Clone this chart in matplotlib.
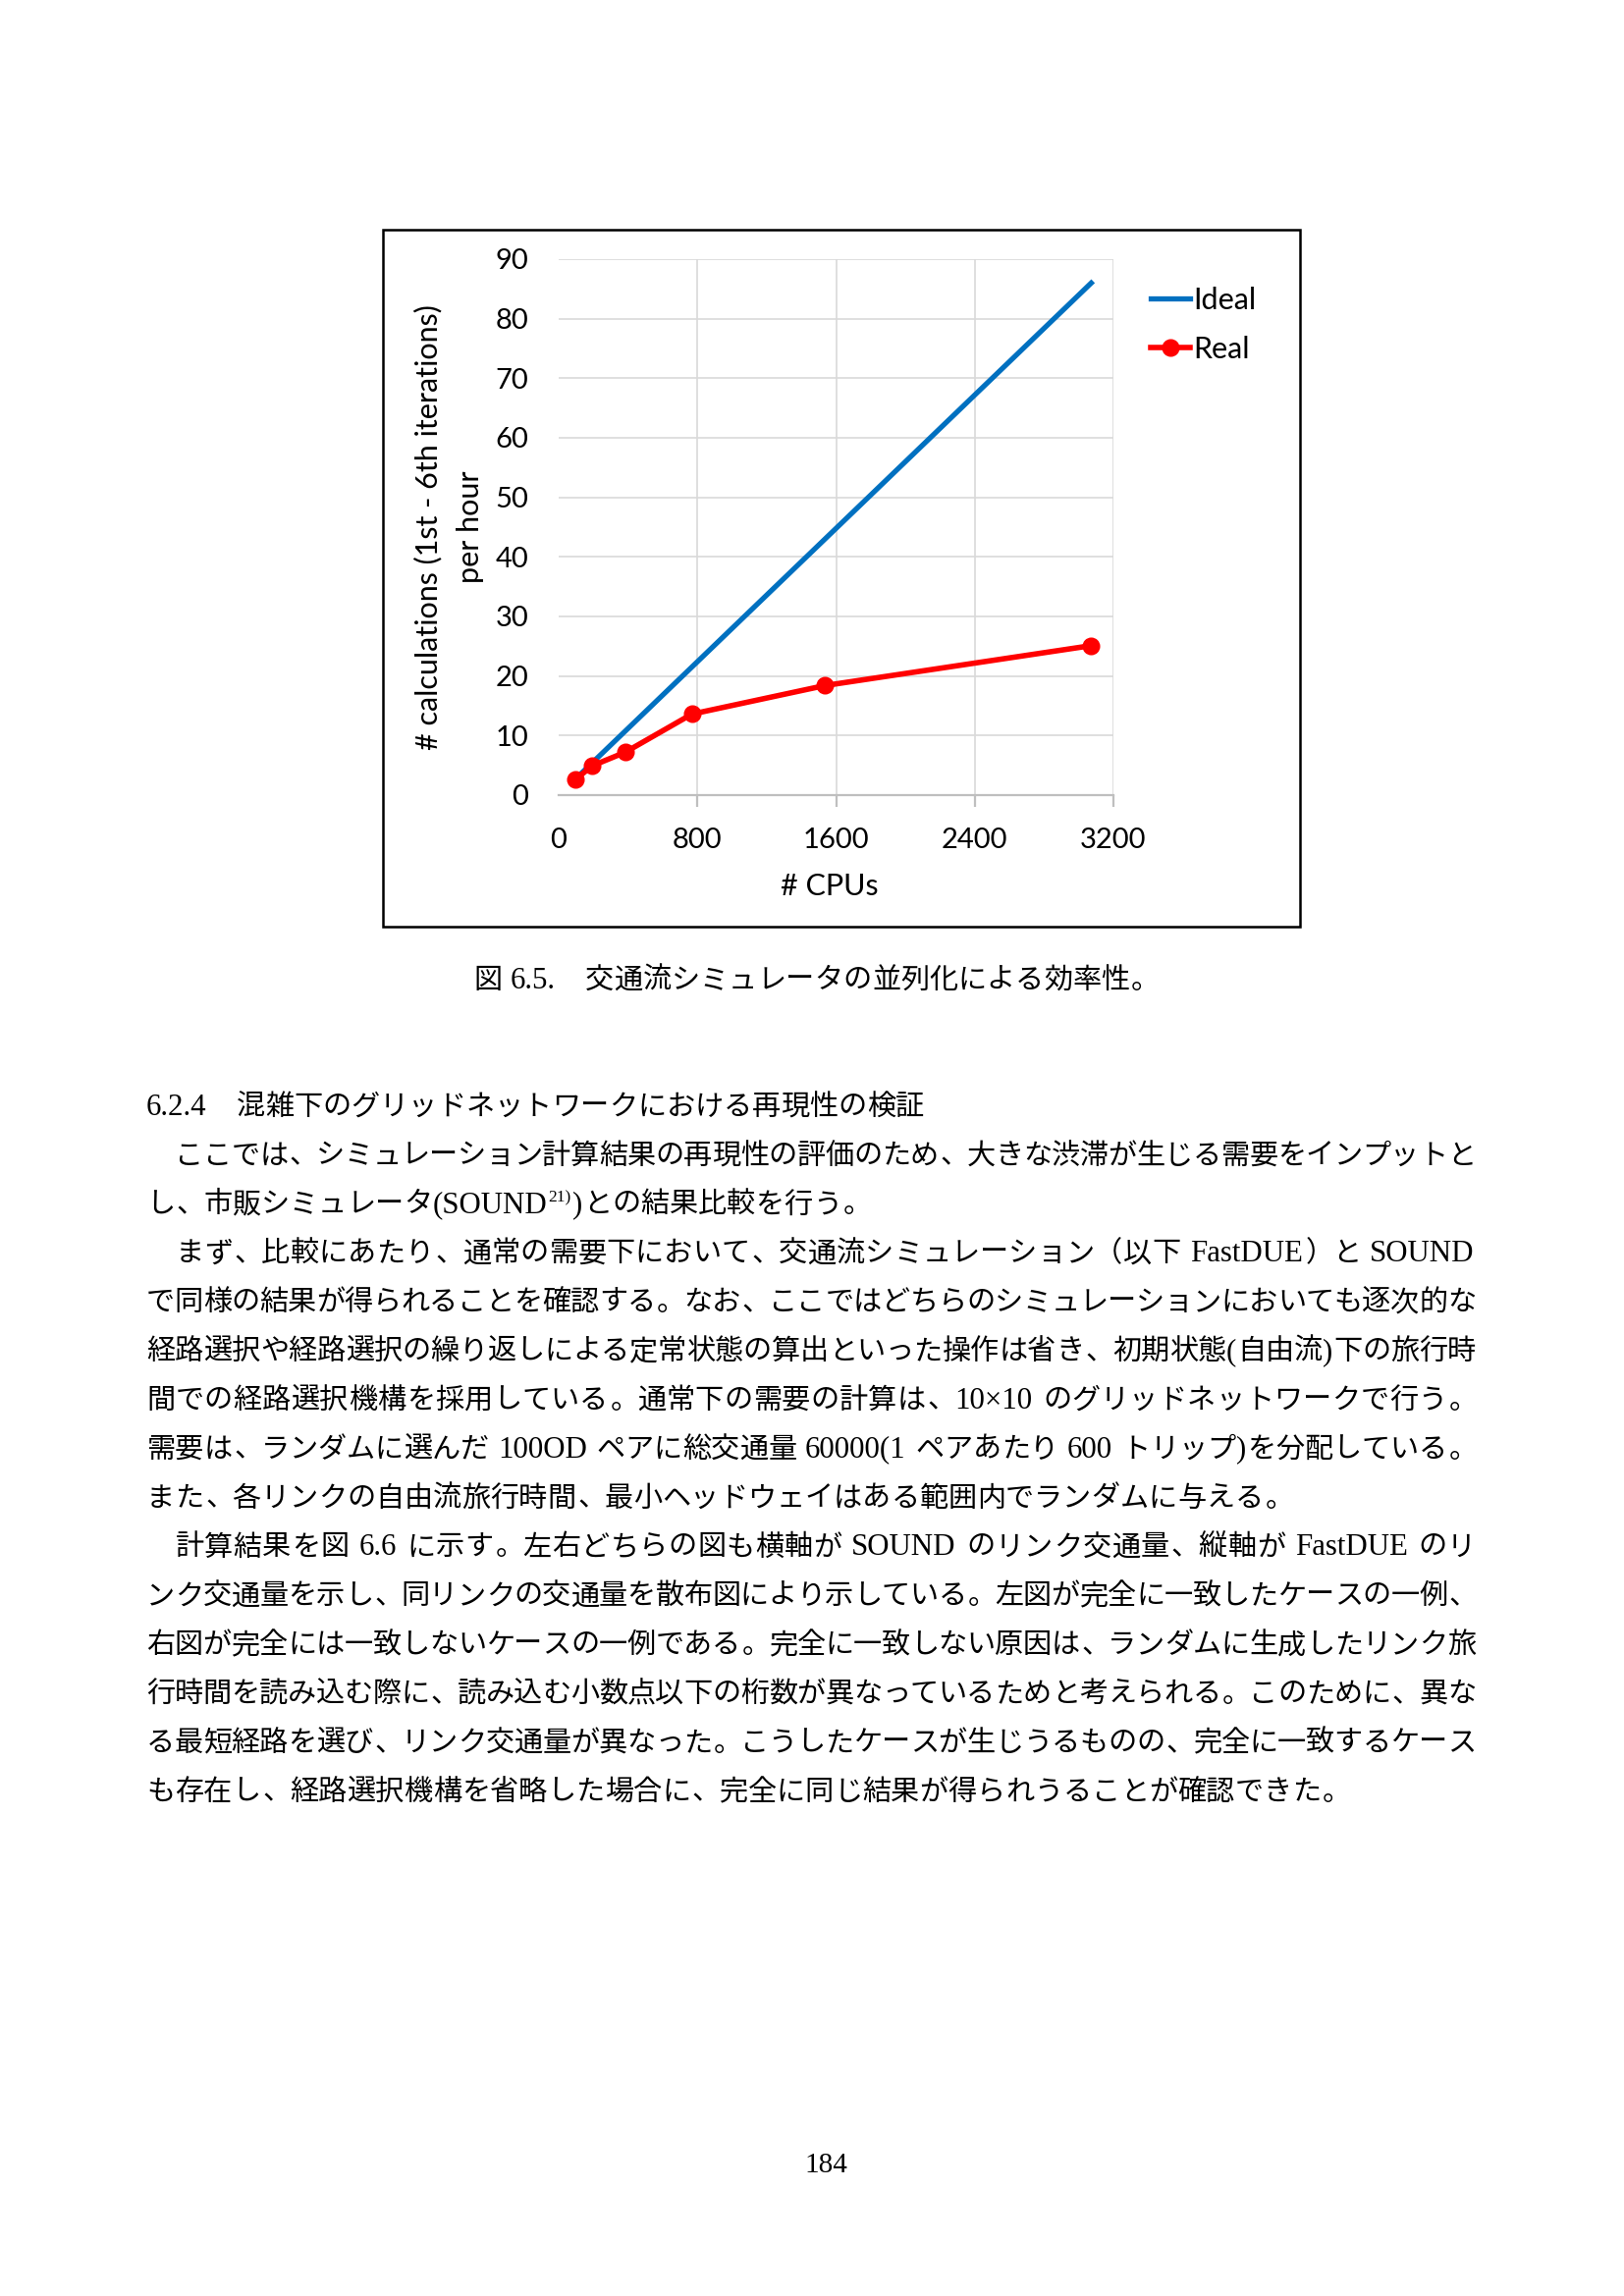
import matplotlib
matplotlib.use('Agg')
import matplotlib.pyplot as plt
from matplotlib.patches import Rectangle

# ---------------- data ----------------
cpus = [96, 192, 384, 768, 1536, 3072]
ideal = [2.69, 5.38, 10.75, 21.5, 43.0, 86.0]
real = [2.6, 4.9, 7.2, 13.6, 18.4, 25.1]
series_labels = ['Ideal', 'Real']
x_ticks = [0, 800, 1600, 2400, 3200]
y_ticks = [0, 10, 20, 30, 40, 50, 60, 70, 80, 90]
x_label = '# CPUs'
y_label_lines = ['# calculations (1st - 6th iterations)', 'per hour']

caption = '図 6.5.　交通流シミュレータの並列化による効率性。'
heading = '6.2.4　混雑下のグリッドネットワークにおける再現性の検証'
paragraph1 = [
    '　ここでは、シミュレーション計算結果の再現性の評価のため、大きな渋滞が生じる需要をインプットと',
    'し、市販シミュレータ(SOUND^{21)})との結果比較を行う。',
]
paragraph2 = [
    '　まず、比較にあたり、通常の需要下において、交通流シミュレーション（以下 FastDUE）と SOUND',
    'で同様の結果が得られることを確認する。なお、ここではどちらのシミュレーションにおいても逐次的な',
    '経路選択や経路選択の繰り返しによる定常状態の算出といった操作は省き、初期状態(自由流)下の旅行時',
    '間での経路選択機構を採用している。通常下の需要の計算は、10×10 のグリッドネットワークで行う。',
    '需要は、ランダムに選んだ 100OD ペアに総交通量 60000(1 ペアあたり 600 トリップ)を分配している。',
    'また、各リンクの自由流旅行時間、最小ヘッドウェイはある範囲内でランダムに与える。',
]
paragraph3 = [
    '　計算結果を図 6.6 に示す。左右どちらの図も横軸が SOUND のリンク交通量、縦軸が FastDUE のリ',
    'ンク交通量を示し、同リンクの交通量を散布図により示している。左図が完全に一致したケースの一例、',
    '右図が完全には一致しないケースの一例である。完全に一致しない原因は、ランダムに生成したリンク旅',
    '行時間を読み込む際に、読み込む小数点以下の桁数が異なっているためと考えられる。このために、異な',
    'る最短経路を選び、リンク交通量が異なった。こうしたケースが生じうるものの、完全に一致するケース',
    'も存在し、経路選択機構を省略した場合に、完全に同じ結果が得られうることが確認できた。',
]
paragraphs = [paragraph1, paragraph2, paragraph3]
page_number = '184'

# ---------------- figure ----------------
W, H = 1654, 2339
DPI = 200
fig = plt.figure(figsize=(W / DPI, H / DPI), dpi=DPI)
fig.patch.set_facecolor('white')


def fx(px):
    return px / W


def fy(py):
    return 1 - py / H


CHART_FONT = 'Lato'

# chart frame
fig.patches.append(Rectangle((fx(390), fy(944)), fx(1324) - fx(390), fy(234) - fy(944),
                             transform=fig.transFigure, fill=False, ec='black', lw=0.9))

ax = fig.add_axes([fx(569), fy(810), fx(1134) - fx(569), fy(264) - fy(810)])
ax.set_xlim(0, 3200)
ax.set_ylim(0, 90)
ax.plot(cpus, ideal, color='#0070C0', lw=1.9, label=series_labels[0], zorder=3)
ax.plot(cpus, real, color='#FF0000', lw=2.0, marker='o', ms=5.5,
        label=series_labels[1], zorder=4)
for s in ['left', 'right', 'top']:
    ax.spines[s].set_visible(False)
ax.spines['bottom'].set_color('#BFBFBF')
ax.spines['bottom'].set_linewidth(0.8)
ax.set_xticks(x_ticks)
ax.set_yticks(y_ticks)
ax.set_axisbelow(True)
ax.grid(True, color='#D9D9D9', lw=0.6)
ax.tick_params(axis='y', length=0, pad=11, labelsize=10.5)
ax.tick_params(axis='x', length=4.3, width=0.8, color='#BFBFBF', pad=7.5, labelsize=10.5)
for lab in ax.get_xticklabels() + ax.get_yticklabels():
    lab.set_family(CHART_FONT)
xt0 = ax.xaxis.get_major_ticks()[0]
xt0.tick1line.set_visible(False)
xt0.gridline.set_visible(False)

leg = ax.legend(loc='center left', bbox_to_anchor=(fx(1172), fy(331)),
                bbox_transform=fig.transFigure, frameon=False, borderpad=0,
                borderaxespad=0, handlelength=1.32, handletextpad=0.1,
                labelspacing=0.72, prop={'family': CHART_FONT, 'size': 11})

fig.text(fx(845), fy(903), x_label, ha='center', va='center', fontsize=11, family=CHART_FONT)
fig.text(fx(436), fy(537), y_label_lines[0], rotation=90, ha='center', va='center',
         fontsize=11, family=CHART_FONT)
fig.text(fx(479), fy(537), y_label_lines[1], rotation=90, ha='center', va='center',
         fontsize=11, family=CHART_FONT)

# ---------------- body text ----------------
FS = 10.5
CJK = 'Noto Sans CJK JP'
LAT = 'Liberation Serif'
renderer = fig.canvas.get_renderer()


def is_latin(c):
    return ord(c) < 0x2000


def tokenize(s):
    toks = []
    i = 0
    while i < len(s):
        if s.startswith('^{', i):
            j = s.index('}', i)
            toks.append(('sup', s[i + 2:j]))
            i = j + 1
            continue
        c = s[i]
        if c == ' ':
            toks.append(('space', c))
            i += 1
        elif c == '　':
            toks.append(('wspace', c))
            i += 1
        elif is_latin(c):
            j = i
            while j < len(s) and is_latin(s[j]) and s[j] != ' ' and not s.startswith('^{', j):
                j += 1
            toks.append(('lat', s[i:j]))
            i = j
        else:
            toks.append(('cjk', c))
            i += 1
    return toks


def measure(text, size, family):
    t = fig.text(0, 0, text, fontsize=size, family=family)
    w = t.get_window_extent(renderer).width
    t.remove()
    return w


LAT_SCALE = 1.06


def draw_line(s, y_center, x0=149, x1=1503, justify=False, size=FS):
    em = size * DPI / 72.0
    lsize = size * LAT_SCALE
    base = y_center + 0.38 * em
    toks = tokenize(s)
    widths = []
    for kind, txt in toks:
        if kind in ('cjk', 'wspace'):
            widths.append(em)
        elif kind == 'space':
            widths.append(0.3 * em)
        elif kind == 'lat':
            widths.append(measure(txt, lsize, LAT) + 0.04 * em)
        else:
            widths.append(measure(txt, size * 0.6, LAT) + 0.04 * em)
    natural = sum(widths)
    gap = 0.0
    if justify and len(toks) > 1:
        gap = (x1 - x0 - natural) / (len(toks) - 1)
    cur = x0
    for (kind, txt), w in zip(toks, widths):
        if kind == 'cjk':
            if txt in '、。，．）」':
                fig.text(fx(cur + 0.06 * em), fy(base), txt, ha='left', va='baseline',
                         fontsize=size, family=CJK)
            elif txt in '（「':
                fig.text(fx(cur + 0.94 * em), fy(base), txt, ha='right', va='baseline',
                         fontsize=size, family=CJK)
            else:
                fig.text(fx(cur + em / 2), fy(base), txt, ha='center', va='baseline',
                         fontsize=size, family=CJK)
        elif kind == 'lat':
            fig.text(fx(cur), fy(base), txt, ha='left', va='baseline',
                     fontsize=lsize, family=LAT)
        elif kind == 'sup':
            fig.text(fx(cur), fy(base - 0.38 * em), txt, ha='left', va='baseline',
                     fontsize=size * 0.6, family=LAT)
        cur += w + gap
    return cur


# caption
draw_line(caption, 996, x0=482)

# heading and paragraphs
Y0 = 1124.6
PITCH = 49.86
draw_line(heading, Y0)
k = 1
for para in paragraphs:
    for i, ln in enumerate(para):
        draw_line(ln, Y0 + PITCH * k, justify=(i < len(para) - 1))
        k += 1

# page number
fig.text(fx(841), fy(2213), page_number, ha='center', va='baseline', fontsize=10.5, family=LAT)

fig.savefig('out.png', dpi=DPI, facecolor='white')
